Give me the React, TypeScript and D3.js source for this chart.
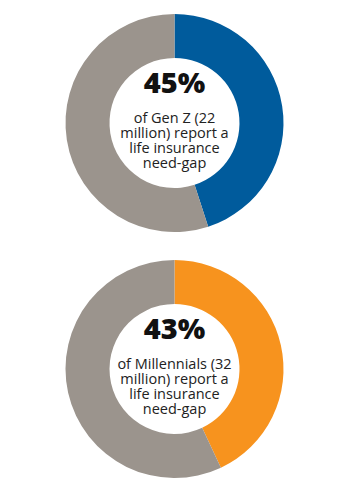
import * as d3 from "d3";

const percents = [45, 43];
const colors = ["#005b9c", "#f7931e"];
const restColor = "#9b948d";
const captions = [
  ["of Gen Z (22", "million) report a", "life insurance", "need-gap"],
  ["of Millennials (32", "million) report a", "life insurance", "need-gap"],
];

const width = 350;
const height = 492;
const outerR = 109;
const innerR = 65;
const centersY = [123, 369];

export default function App() {
  const pie = d3
    .pie<number>()
    .sort(null)
    .value((d) => d);
  const arc = d3.arc<d3.PieArcDatum<number>>().innerRadius(innerR).outerRadius(outerR);

  return (
    <svg
      width={width}
      height={height}
      style={{ position: "absolute", left: 0, top: 0, background: "#fff" }}
      fontFamily="'Open Sans', sans-serif"
    >
      {percents.map((p, i) => {
        const arcs = pie([p, 100 - p]);
        return (
          <g key={i} transform={`translate(174.5,${centersY[i]})`}>
            {arcs.map((a, j) => (
              <path key={j} d={arc(a) || ""} fill={j === 0 ? colors[i] : restColor} />
            ))}
            <text
              y={-30}
              textAnchor="middle"
              fontSize={29}
              fontWeight={800}
              fill="#111"
            >
              {p}%
            </text>
            <text textAnchor="middle" fontSize={14.5} fill="#222">
              {captions[i].map((line, k) => (
                <tspan key={k} x={0} y={-0.5 + k * 15.2}>
                  {line}
                </tspan>
              ))}
            </text>
          </g>
        );
      })}
    </svg>
  );
}
